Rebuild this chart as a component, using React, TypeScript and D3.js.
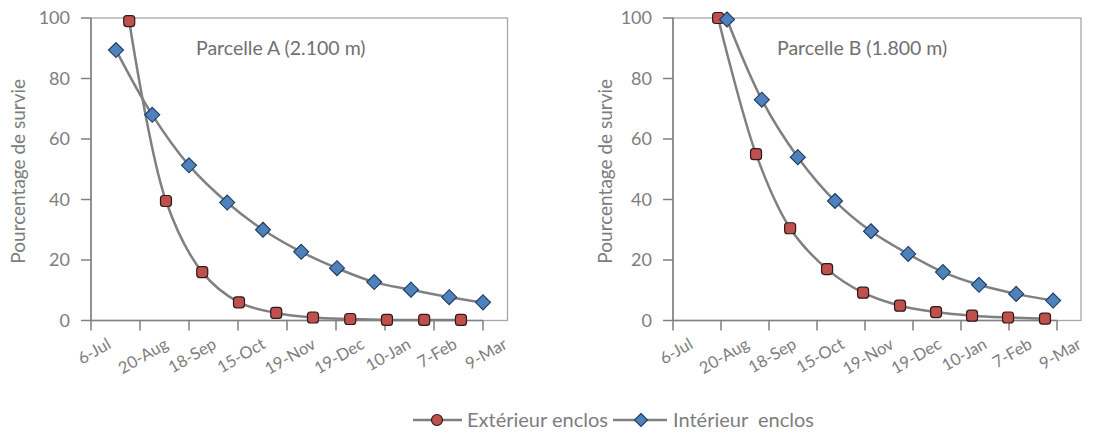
import React, { useEffect, useRef } from "react";
import * as d3 from "d3";

const xTickLabels = ["6-Jul", "20-Aug", "18-Sep", "15-Oct", "19-Nov", "19-Dec", "10-Jan", "7-Feb", "9-Mar"];
const yTicks = [0, 20, 40, 60, 80, 100];

const seriesNames = ["Extérieur enclos", "Intérieur  enclos"];

// Parcelle A
const extA_x = [0.78, 1.53, 2.27, 3.02, 3.78, 4.53, 5.29, 6.04, 6.8, 7.55];
const extA_y = [99, 39.5, 16, 6, 2.5, 1, 0.5, 0.2, 0.2, 0.2];
const intA_x = [0.51, 1.25, 2.0, 2.78, 3.51, 4.29, 5.02, 5.78, 6.53, 7.31, 8.0];
const intA_y = [89.4, 68, 51.3, 39, 30, 22.7, 17.3, 12.7, 10.2, 7.7, 6];

// Parcelle B
const extB_x = [0.94, 1.73, 2.44, 3.21, 3.96, 4.73, 5.48, 6.23, 6.98, 7.75];
const extB_y = [100, 55, 30.5, 17, 9.2, 4.9, 2.8, 1.6, 1.0, 0.6];
const intB_x = [1.125, 1.85, 2.6, 3.375, 4.125, 4.9, 5.625, 6.375, 7.15, 7.92];
const intB_y = [99.5, 73, 54, 39.5, 29.5, 22, 16, 11.8, 8.8, 6.6];

const panelTitles = ["Parcelle A (2.100 m)", "Parcelle B (1.800 m)"];
const yTitle = "Pourcentage de survie";

const FONT = "Lato, 'Open Sans', sans-serif";
const TEXT = "#7d7d7d";
const LINE = "#808080";
const RED = "#c0504d";
const RED_STROKE = "#2e1a1a";
const BLUE = "#4f81bd";
const BLUE_STROKE = "#1e3a5f";

export default function App() {
  const ref = useRef<SVGSVGElement | null>(null);

  useEffect(() => {
    const svg = d3.select(ref.current);
    svg.selectAll("*").remove();

    const panels = [
      { left: 91, right: 507.5, titleX: 196, yTitleX: 17, ext: [extA_x, extA_y], int: [intA_x, intA_y], title: panelTitles[0] },
      { left: 673, right: 1081, titleX: 777, yTitleX: 604, ext: [extB_x, extB_y], int: [intB_x, intB_y], title: panelTitles[1] },
    ];

    const yScale = d3.scaleLinear().domain([0, 100]).range([320.5, 18]);
    const angle = 30;
    const rad = (angle * Math.PI) / 180;

    panels.forEach((p) => {
      const x = d3.scaleLinear().domain([0, 8.5]).range([p.left, p.right]);
      const g = svg.append("g");

      // plot area border
      g.append("rect")
        .attr("x", p.left)
        .attr("y", yScale(100))
        .attr("width", p.right - p.left)
        .attr("height", yScale(0) - yScale(100))
        .attr("fill", "none")
        .attr("stroke", "#a6a6a6")
        .attr("stroke-width", 1.3);

      // y axis
      g.append("line")
        .attr("x1", p.left).attr("x2", p.left)
        .attr("y1", yScale(0)).attr("y2", yScale(100))
        .attr("stroke", LINE).attr("stroke-width", 1.5);
      yTicks.forEach((t) => {
        g.append("line")
          .attr("x1", p.left - 10).attr("x2", p.left)
          .attr("y1", yScale(t)).attr("y2", yScale(t))
          .attr("stroke", LINE).attr("stroke-width", 1.5);
        g.append("text")
          .attr("x", p.left - 21)
          .attr("y", yScale(t))
          .attr("dy", "0.35em")
          .attr("text-anchor", "end")
          .attr("font-family", FONT)
          .attr("font-size", 18)
          .attr("fill", TEXT)
          .text(String(t));
      });

      // x axis
      g.append("line")
        .attr("x1", x(0)).attr("x2", x(8))
        .attr("y1", yScale(0)).attr("y2", yScale(0))
        .attr("stroke", LINE).attr("stroke-width", 1.5);
      xTickLabels.forEach((lab, i) => {
        g.append("line")
          .attr("x1", x(i)).attr("x2", x(i))
          .attr("y1", yScale(0)).attr("y2", yScale(0) + 10)
          .attr("stroke", LINE).attr("stroke-width", 1.5);
        const t = g.append("text")
          .attr("text-anchor", "middle")
          .attr("dominant-baseline", "central")
          .attr("font-family", FONT)
          .attr("font-size", 16.5)
          .attr("fill", TEXT)
          .text(lab);
        const L = (t.node() as SVGTextElement).getComputedTextLength();
        const h = 12;
        const H = L * Math.sin(rad) + h * Math.cos(rad);
        const top = 337;
        t.attr("transform", `translate(${x(i) + 3},${top + H / 2}) rotate(${-angle})`);
      });

      // y title
      g.append("text")
        .attr("transform", `translate(${p.yTitleX},${(yScale(0) + yScale(100)) / 2 + 2}) rotate(-90)`)
        .attr("text-anchor", "middle")
        .attr("dominant-baseline", "central")
        .attr("font-family", FONT)
        .attr("font-size", 19)
        .attr("fill", TEXT)
        .text(yTitle);

      // panel title
      g.append("text")
        .attr("x", p.titleX)
        .attr("y", 55)
        .attr("font-family", FONT)
        .attr("font-size", 19.5)
        .attr("fill", "#707070")
        .text(p.title);

      const lineGen = d3.line<[number, number]>()
        .x((d) => x(d[0]))
        .y((d) => yScale(d[1]))
        .curve(d3.curveCatmullRom.alpha(0.5));

      const extPts: [number, number][] = p.ext[0].map((v, i) => [v, p.ext[1][i]]);
      const intPts: [number, number][] = p.int[0].map((v, i) => [v, p.int[1][i]]);

      [extPts, intPts].forEach((pts) => {
        g.append("path")
          .attr("d", lineGen(pts) || "")
          .attr("fill", "none")
          .attr("stroke", LINE)
          .attr("stroke-width", 2.5);
      });

      extPts.forEach((d) => {
        g.append("rect")
          .attr("x", x(d[0]) - 5.5)
          .attr("y", yScale(d[1]) - 5.5)
          .attr("width", 11)
          .attr("height", 11)
          .attr("rx", 3)
          .attr("fill", RED)
          .attr("stroke", RED_STROKE)
          .attr("stroke-width", 1.2);
      });
      intPts.forEach((d) => {
        const cx = x(d[0]);
        const cy = yScale(d[1]);
        const r = 7.5;
        g.append("path")
          .attr("d", `M${cx},${cy - r}L${cx + r},${cy}L${cx},${cy + r}L${cx - r},${cy}Z`)
          .attr("fill", BLUE)
          .attr("stroke", BLUE_STROKE)
          .attr("stroke-width", 1.1);
      });
    });

    // legend
    const lg = svg.append("g");
    const ly = 420;
    const items = [
      { x1: 413, x2: 462, mx: 437, tx: 467, kind: "ext", label: seriesNames[0] },
      { x1: 613, x2: 667, mx: 641, tx: 673, kind: "int", label: seriesNames[1] },
    ];
    items.forEach((it) => {
      lg.append("line")
        .attr("x1", it.x1).attr("x2", it.x2)
        .attr("y1", ly).attr("y2", ly)
        .attr("stroke", LINE).attr("stroke-width", 2.5);
      if (it.kind === "ext") {
        lg.append("circle")
          .attr("cx", it.mx).attr("cy", ly).attr("r", 5.5)
          .attr("fill", RED).attr("stroke", RED_STROKE).attr("stroke-width", 1.2);
      } else {
        const r = 6.5;
        lg.append("path")
          .attr("d", `M${it.mx},${ly - r}L${it.mx + r},${ly}L${it.mx},${ly + r}L${it.mx - r},${ly}Z`)
          .attr("fill", BLUE).attr("stroke", BLUE_STROKE).attr("stroke-width", 1.1);
      }
      lg.append("text")
        .attr("x", it.tx)
        .attr("y", ly)
        .attr("dy", "0.35em")
        .attr("font-family", FONT)
        .attr("font-size", 20)
        .attr("fill", TEXT)
        .style("white-space", "pre")
        .text(it.label);
    });
  }, []);

  return (
    <svg
      ref={ref}
      width={1093}
      height={433}
      style={{ position: "absolute", left: 0, top: 0, background: "#fff" }}
    />
  );
}
